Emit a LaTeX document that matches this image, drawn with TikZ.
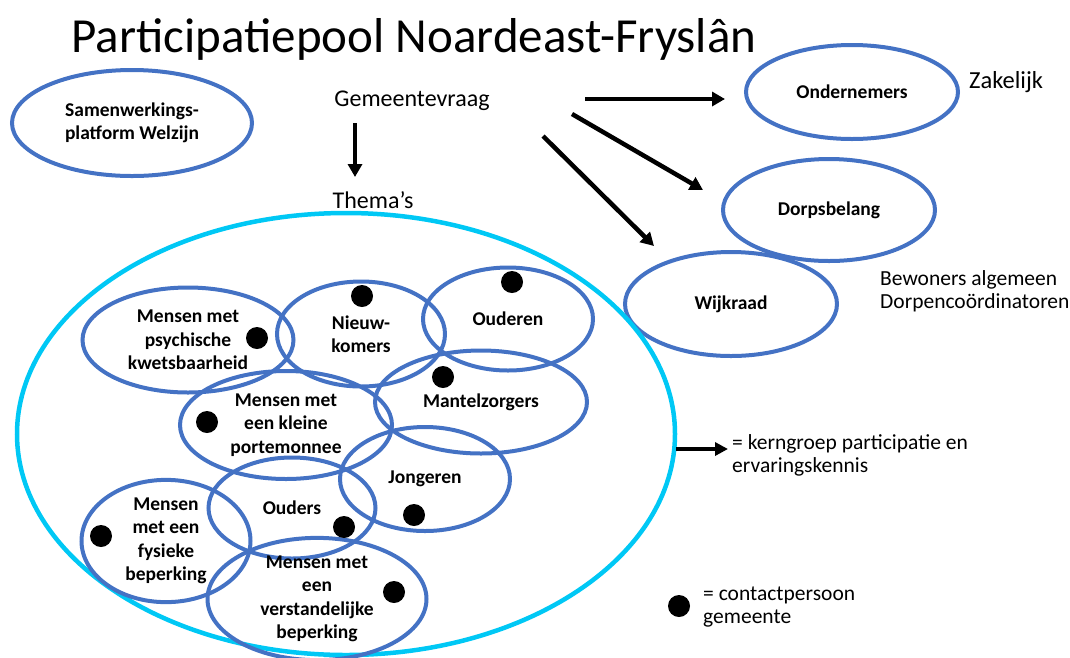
\documentclass[tikz,border=0pt]{standalone}
\usepackage{fontspec}
\setmainfont{Carlito}
\usetikzlibrary{shapes.geometric,arrows.meta}
\definecolor{ellblue}{RGB}{68,114,196}
\definecolor{cyanring}{RGB}{0,200,245}
\tikzset{
  grp/.style={draw=ellblue, line width=4pt, ellipse, inner sep=0pt, align=center,
     font=\bfseries\fontsize{19.5}{23.5}\selectfont},
  dot/.style={circle, fill=black, inner sep=0pt, minimum size=22pt},
  arr/.style={line width=4.5pt, -{Triangle[length=13pt,width=14pt]}},
  plain/.style={inner sep=0pt, font=\fontsize{24}{28}\selectfont},
  legend/.style={inner sep=0pt, align=left, font=\fontsize{21.5}{23}\selectfont, anchor=west}
}
\begin{document}
\begin{tikzpicture}[x=1pt,y=-1pt]
\useasboundingbox (0,0) rectangle (1070,657);
% title
\node[inner sep=0pt, anchor=base, font=\fontsize{49}{52}\selectfont] (title) at (414,52) {Participatiepool Noardeast-Fryslân};
% top ellipses
\node[grp, minimum width=240pt, minimum height=106pt] (swp) at (132,123) {Samenwerkings-\\platform Welzijn};
\node[plain] (gv) at (412,101) {Gemeentevraag};
\node[plain] (th) at (373,200) {Thema’s};
\node[grp, minimum width=212pt, minimum height=94pt] (ond) at (852,92) {Ondernemers};
\node[grp, minimum width=212pt, minimum height=102pt] (dorp) at (829,210) {Dorpsbelang};
\node[grp, minimum width=212pt, minimum height=104pt] (wijk) at (731,304) {Wijkraad};
\node[plain, anchor=west, font=\fontsize{24.5}{28}\selectfont] (zak) at (969,82) {Zakelijk};
\node[legend] (bew) at (880,291) {Bewoners algemeen\\Dorpencoördinatoren};
% arrows
\coordinate (a1s) at (585,99); \coordinate (a1e) at (725,99);
\coordinate (a2s) at (572,114); \coordinate (a2e) at (703,190);
\coordinate (a3s) at (543,136); \coordinate (a3e) at (654,246);
\coordinate (a4s) at (355,123); \coordinate (a4e) at (355,177);
\draw[arr] (a1s) -- (a1e);
\draw[arr] (a2s) -- (a2e);
\draw[arr] (a3s) -- (a3e);
\draw[arr] (a4s) -- (a4e);
% big ring
\node[draw=cyanring, line width=4.5pt, ellipse, minimum width=658pt, minimum height=442pt, inner sep=0pt] (ring) at (346,434) {};
% inner groups
\node[grp, minimum width=211pt, minimum height=105pt] (psy) at (188,340) {Mensen met\\psychische\\kwetsbaarheid};
\node[grp, minimum width=168pt, minimum height=105pt] (nieuw) at (361,334) {Nieuw-\\komers};
\node[grp, minimum width=170pt, minimum height=103pt] (oud) at (508,319) {Ouderen};
\node[grp, minimum width=212pt, minimum height=103pt] (mantel) at (481,402) {Mantelzorgers};
\node[grp, minimum width=212pt, minimum height=108pt] (porte) at (286,425) {Mensen met\\een kleine\\portemonnee};
\node[grp, minimum width=170pt, minimum height=104pt] (jong) at (425,479) {Jongeren};
\node[grp, minimum width=167pt, minimum height=101pt] (ouders) at (292,508) {Ouders};
\node[grp, minimum width=169pt, minimum height=106pt] (fys) at (166,541) {Mensen\\met een\\fysieke\\beperking};
\node[grp, minimum width=219pt, minimum height=104pt] (verst) at (317,599) {Mensen met\\een\\verstandelijke\\beperking};
% dots
\node[dot] (d1) at (257,338) {};
\node[dot] (d2) at (362,296) {};
\node[dot] (d3) at (512,282) {};
\node[dot] (d4) at (443,377) {};
\node[dot] (d5) at (207,422) {};
\node[dot] (d6) at (414,515) {};
\node[dot] (d7) at (344,527) {};
\node[dot] (d8) at (101,536) {};
\node[dot] (d9) at (394,592) {};
% legend
\coordinate (k1) at (676,449);
\node[legend] (kern) at (732,455) {= kerngroep participatie en\\ervaringskennis};
\draw[arr, -{Triangle[length=13pt,width=13pt]}] (k1) -- ([xshift=-4pt]kern.west |- k1);
\node[dot] (ld) at (679,606) {};
\node[legend] (cont) at (703,607) {= contactpersoon\\gemeente};
\end{tikzpicture}
\end{document}
